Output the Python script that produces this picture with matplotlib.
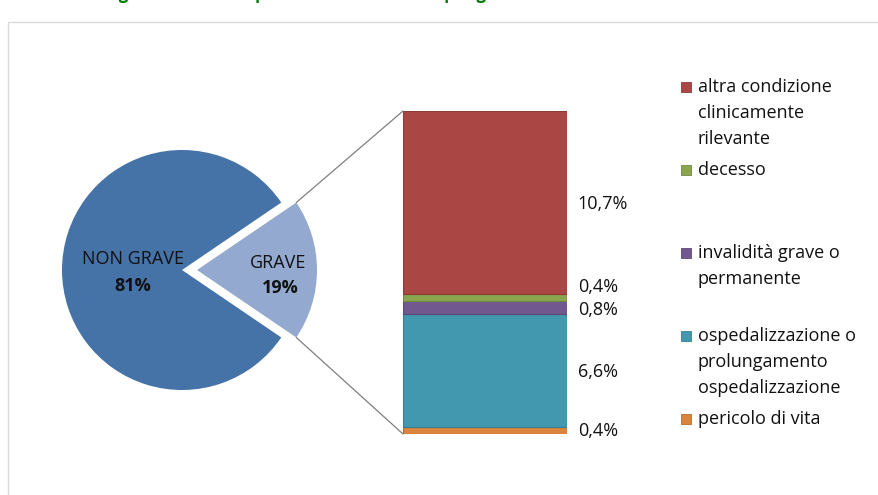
import matplotlib
matplotlib.use("Agg")
import matplotlib.pyplot as plt
from matplotlib.patches import Rectangle, ConnectionPatch
import math

plt.rcParams['font.family'] = ['Open Sans', 'DejaVu Sans']

# pie: gravi / non gravi
pie_labels = ['GRAVE', 'NON GRAVE']
pie_values = [19, 81]
pie_colors = ['#93A9CF', '#4572A7']

# breakdown of the serious reports (bottom to top)
cat_names = ['pericolo di vita',
             'ospedalizzazione o\nprolungamento\nospedalizzazione',
             'invalidità grave o\npermanente',
             'decesso',
             'altra condizione\nclinicamente\nrilevante']
cat_values = [0.4, 6.6, 0.8, 0.4, 10.7]
cat_colors = ['#DB843D', '#4198AF', '#71588F', '#89A54E', '#AA4643']
cat_edges = ['#B86A2E', '#357E92', '#5C4775', '#70883E', '#8E3A37']
# small vertical nudges (in %) so the thin slices' labels don't collide
label_nudge = [-0.05, -0.05, -0.15, 0.6, -0.1]

W, H = 879, 495
fig = plt.figure(figsize=(W / 100, H / 100), dpi=100)

# chart frame
fig.patches.append(Rectangle((8 / W, -0.1), 1.2, 1 - 22 / H + 0.1,
                             transform=fig.transFigure, fill=False,
                             edgecolor='#D9D9D9', lw=1))

fig.text(-60 / W, 1 + 1.5 / H,
         'Distribuzione delle segnalazioni di sospette reazioni avverse per gravità',
         color='#007A00', fontsize=12, fontweight='bold', va='baseline')

# ---- pie ----
r_px = 120
cx, cy = 182, 270
span = 2.4
axp = fig.add_axes([(cx - span / 2 * r_px) / W, (H - cy - span / 2 * r_px) / H,
                    span * r_px / W, span * r_px / H])
start = -pie_values[0] / 100 * 360 / 2
axp.pie(pie_values, colors=pie_colors, startangle=start,
        explode=[0.125, 0], radius=1, wedgeprops=dict(linewidth=0))
axp.set_xlim(-span / 2, span / 2)
axp.set_ylim(-span / 2, span / 2)
axp.set_aspect('equal')
axp.axis('off')

fs = 13
axp.text(-0.41, 0.09, pie_labels[1], ha='center', va='center', fontsize=fs, color='#111111')
axp.text(-0.41, -0.13, '%d%%' % pie_values[1], ha='center', va='center',
         fontsize=fs, fontweight='bold', color='#111111')
axp.text(0.8, 0.06, pie_labels[0], ha='center', va='center', fontsize=fs, color='#111111')
axp.text(0.82, -0.15, '%d%%' % pie_values[0], ha='center', va='center',
         fontsize=fs, fontweight='bold', color='#111111')

# ---- stacked bar ----
bx0, bx1, by_top, by_bot = 403, 567, 111, 434
axb = fig.add_axes([bx0 / W, (H - by_bot) / H, (bx1 - bx0) / W, (by_bot - by_top) / H])
total = sum(cat_values)
bottom = 0
for v, c, e, nud in zip(cat_values, cat_colors, cat_edges, label_nudge):
    axb.bar(0, v, bottom=bottom, width=1, color=c, edgecolor=e, linewidth=0.8)
    axb.text(1.065, bottom + v / 2 + nud, ('%.1f%%' % v).replace('.', ','),
             transform=axb.get_yaxis_transform(), va='center', ha='left',
             fontsize=fs, color='#111111')
    bottom += v
axb.set_xlim(-0.5, 0.5)
axb.set_ylim(0, total)
axb.axis('off')

# connector lines from the serious slice to the bar
off = 0.125
ang = math.radians(pie_values[0] / 100 * 360 / 2)
for sgn, ybar in [(1, total), (-1, 0)]:
    p = (off + math.cos(ang), sgn * math.sin(ang))
    con = ConnectionPatch(xyA=p, coordsA=axp.transData,
                          xyB=(-0.5, ybar), coordsB=axb.transData,
                          color='#7F7F7F', lw=0.9)
    fig.add_artist(con)

# legend, entries evenly spaced
leg_x, leg_y0, leg_step = 681, 87, 83
names_top = cat_names[::-1]
colors_top = cat_colors[::-1]
edges_top = cat_edges[::-1]
for i in range(len(names_top)):
    y = leg_y0 + i * leg_step
    fig.patches.append(Rectangle((leg_x / W, 1 - (y + 5) / H), 10 / W, 10 / H,
                                 transform=fig.transFigure, facecolor=colors_top[i],
                                 edgecolor=edges_top[i], lw=0.6))
    fig.text((leg_x + 17) / W, 1 - (y - 9) / H, names_top[i], va='top', ha='left',
             fontsize=fs, color='#111111', linespacing=1.58)

fig.savefig('out.png', dpi=100)
